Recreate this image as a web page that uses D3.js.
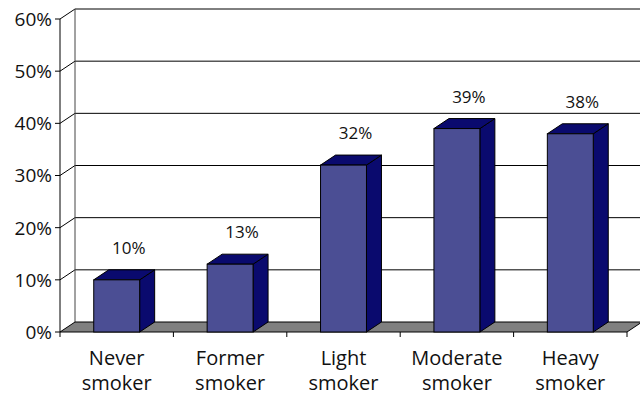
<!DOCTYPE html>
<html>
<head>
<meta charset="utf-8">
<script src="https://cdn.jsdelivr.net/npm/d3@7"></script>
<style>
  html, body { margin: 0; padding: 0; background: #fff; }
  svg { display: block; }
  text { font-family: "Open Sans", "DejaVu Sans", sans-serif; fill: #111; }
</style>
</head>
<body>
<svg id="chart" width="640" height="395"></svg>
<script>
// Share of each smoking group (proportions)
const categories = [["Never", "smoker"], ["Former", "smoker"], ["Light", "smoker"], ["Moderate", "smoker"], ["Heavy", "smoker"]];
const values = [0.10, 0.13, 0.32, 0.39, 0.38];
const yTicks = [0, 0.1, 0.2, 0.3, 0.4, 0.5, 0.6];

const W = 640, H = 395;
const depthX = 15, depthY = -10;   // oblique projection of the 3-D depth
const svg = d3.select("#chart");

const catKeys = categories.map(c => c.join(" "));
const x = d3.scaleBand().domain(catKeys).range([60, 627]).padding(0);
const y = d3.scaleLinear().domain([0, 0.6]).range([332, 19]);
const barW = x.bandwidth() * 0.405;
const fmt = d3.format(".0%");

const line = d3.line();

// Back wall gridlines with their diagonal run along the left wall
const grid = svg.append("g");
yTicks.filter(t => t > 0).forEach(t => {
  grid.append("path")
    .attr("d", line([[60, y(t)], [60 + depthX, y(t) + depthY], [W + 5, y(t) + depthY]]))
    .attr("fill", "none").attr("stroke", "#000").attr("stroke-width", 1);
});

// Back-left wall edge
grid.append("path")
  .attr("d", line([[60 + depthX, y(0.6) + depthY], [60 + depthX, y(0) + depthY]]))
  .attr("stroke", "#444").attr("stroke-width", 1);

// Floor
svg.append("path")
  .attr("d", line([[60, y(0)], [60 + depthX, y(0) + depthY], [627 + depthX, y(0) + depthY], [627, y(0)]]) + "Z")
  .attr("fill", "#808080").attr("stroke", "#000").attr("stroke-width", 1);

// Value axis (front)
svg.append("path")
  .attr("d", line([[60, y(0.6)], [60, y(0)]]))
  .attr("stroke", "#000").attr("stroke-width", 1);
const yAxis = svg.append("g");
yTicks.forEach(t => {
  yAxis.append("line").attr("x1", 55).attr("x2", 60).attr("y1", y(t)).attr("y2", y(t))
    .attr("stroke", "#000");
  yAxis.append("text").attr("x", 52).attr("y", y(t)).attr("dy", "0.36em")
    .attr("text-anchor", "end").attr("font-size", 19).text(fmt(t));
});

// Category axis ticks at band boundaries
const xTickPos = catKeys.map(k => x(k)).concat([x(catKeys[catKeys.length - 1]) + x.bandwidth()]);
xTickPos.forEach(px => {
  svg.append("line").attr("x1", px).attr("x2", px).attr("y1", y(0)).attr("y2", y(0) + 5)
    .attr("stroke", "#000");
});

// Bars: front face, top and right side
const bars = svg.append("g");
values.forEach((v, i) => {
  const x0 = x(catKeys[i]) + (x.bandwidth() - barW) / 2;
  const x1 = x0 + barW;
  const yt = y(v), yb = y(0);
  bars.append("path")
    .attr("d", line([[x1, yt], [x1 + depthX, yt + depthY], [x1 + depthX, yb + depthY], [x1, yb]]) + "Z")
    .attr("fill", "#0a0a6e").attr("stroke", "#000").attr("stroke-width", 1);
  bars.append("path")
    .attr("d", line([[x0, yt], [x0 + depthX, yt + depthY], [x1 + depthX, yt + depthY], [x1, yt]]) + "Z")
    .attr("fill", "#0a0a6e").attr("stroke", "#000").attr("stroke-width", 1);
  bars.append("rect")
    .attr("x", x0).attr("y", yt).attr("width", barW).attr("height", yb - yt)
    .attr("fill", "#4b4e94").attr("stroke", "#000").attr("stroke-width", 1);
  svg.append("text")
    .attr("x", x0 + barW / 2 + 12).attr("y", yt - 26)
    .attr("text-anchor", "middle").attr("font-size", 17).text(fmt(v));
});

// Category labels (two lines)
categories.forEach((c, i) => {
  const cx = x(catKeys[i]) + x.bandwidth() / 2;
  c.forEach((word, j) => {
    svg.append("text").attr("x", cx).attr("y", 365 + j * 25)
      .attr("text-anchor", "middle").attr("font-size", 20).text(word);
  });
});
</script>
</body>
</html>
